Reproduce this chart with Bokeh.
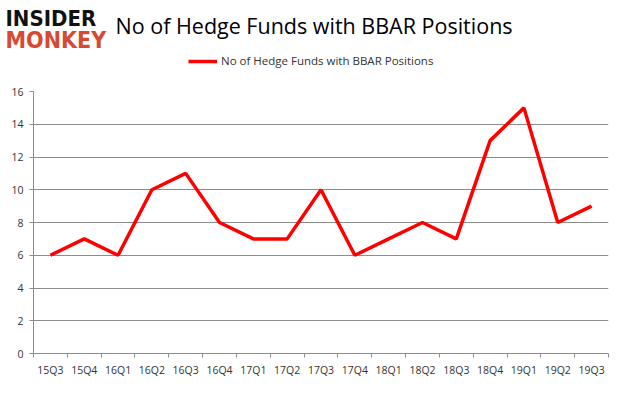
from bokeh.plotting import figure
from bokeh.layouts import column, row
from bokeh.models import Range1d, FixedTicker, Legend, LegendItem, ColumnDataSource
from bokeh.core.properties import value
from bokeh.embed import file_html
from bokeh.resources import INLINE

quarters = ["15Q3", "15Q4", "16Q1", "16Q2", "16Q3", "16Q4", "17Q1", "17Q2", "17Q3",
            "17Q4", "18Q1", "18Q2", "18Q3", "18Q4", "19Q1", "19Q2", "19Q3"]
funds = [6, 7, 6, 10, 11, 8, 7, 7, 10, 6, 7, 8, 7, 13, 15, 8, 9]
y_ticks = [0, 2, 4, 6, 8, 10, 12, 14, 16]
series_name = "No of Hedge Funds with BBAR Positions"
title_text = "No of Hedge Funds with BBAR Positions"

W = 609
H = 379
grid_col = "#8c8c8c"
text_col = "#333333"
font = "Open Sans"

# ---- header (logo, title, legend) ----
HH = 85
hdr = figure(width=W, height=HH, output_backend="svg", toolbar_location=None,
             x_range=Range1d(0, W), y_range=Range1d(0, HH),
             min_border=0, x_axis_type=None, y_axis_type=None)
hdr.outline_line_color = None
hdr.grid.visible = False
hdr.background_fill_color = "white"
hdr.border_fill_color = "white"

hdr.text(x=[5], y=[HH - 18], text=["INSIDER"], text_font=value("DejaVu Sans Condensed"),
         text_font_style="bold", text_font_size="22px", text_color="#111111",
         text_baseline="middle")
hdr.text(x=[5], y=[HH - 39], text=["MONKEY"], text_font=value("DejaVu Sans Condensed"),
         text_font_style="bold", text_font_size="23px", text_color="#d64a33",
         text_baseline="middle")
hdr.text(x=[115], y=[HH - 25], text=[title_text], text_font=value(font),
         text_font_size="21.5px", text_color="black", text_baseline="middle")

dummy = hdr.line(x=[-1000, -999], y=[-1000, -1000], line_color="#ff0000", line_width=3.5)
legend = Legend(items=[LegendItem(label=series_name, renderers=[dummy])], location=(188, 17),
                padding=0, margin=0, spacing=0, glyph_width=29, glyph_height=14,
                label_height=14, label_standoff=4, border_line_color=None,
                background_fill_alpha=0, label_text_font=font,
                label_text_font_size="11.5px", label_text_color=text_col)
hdr.add_layout(legend, "center")

# ---- main chart ----
xs = [i + 0.5 for i in range(len(quarters))]
src = ColumnDataSource(dict(x=xs, y=funds))

p = figure(width=W, height=H - HH, output_backend="svg", toolbar_location=None,
           x_range=Range1d(0, len(quarters)), y_range=Range1d(0, 16),
           min_border_left=33, min_border_right=1, min_border_top=91 - HH,
           min_border_bottom=20)
p.outline_line_color = None
p.background_fill_color = "white"
p.border_fill_color = "white"

p.xaxis.ticker = FixedTicker(ticks=xs, minor_ticks=list(range(len(quarters) + 1)))
p.xaxis.major_label_overrides = {x: q for x, q in zip(xs, quarters)}
p.xaxis.major_tick_out = 0
p.xaxis.major_tick_in = 0
p.xaxis.minor_tick_out = 4
p.xaxis.minor_tick_in = 0
p.xaxis.minor_tick_line_color = grid_col
p.xaxis.axis_line_color = grid_col
p.xaxis.major_label_standoff = 5
p.xaxis.major_label_text_font = font
p.xaxis.major_label_text_font_size = "10.5px"
p.xaxis.major_label_text_color = text_col
p.xgrid.grid_line_color = None

p.yaxis.ticker = FixedTicker(ticks=y_ticks, minor_ticks=[])
p.yaxis.major_tick_out = 4
p.yaxis.major_tick_in = 0
p.yaxis.major_tick_line_color = grid_col
p.yaxis.axis_line_color = grid_col
p.yaxis.major_label_standoff = 6
p.yaxis.major_label_text_font = font
p.yaxis.major_label_text_font_size = "10.5px"
p.yaxis.major_label_text_color = text_col
p.ygrid.grid_line_color = grid_col
p.ygrid.grid_line_width = 1

p.line("x", "y", source=src, line_color="#ff0000", line_width=3.5)

layout = column(row(hdr), p, spacing=0)
open("out.html", "w").write(file_html(layout, INLINE))
